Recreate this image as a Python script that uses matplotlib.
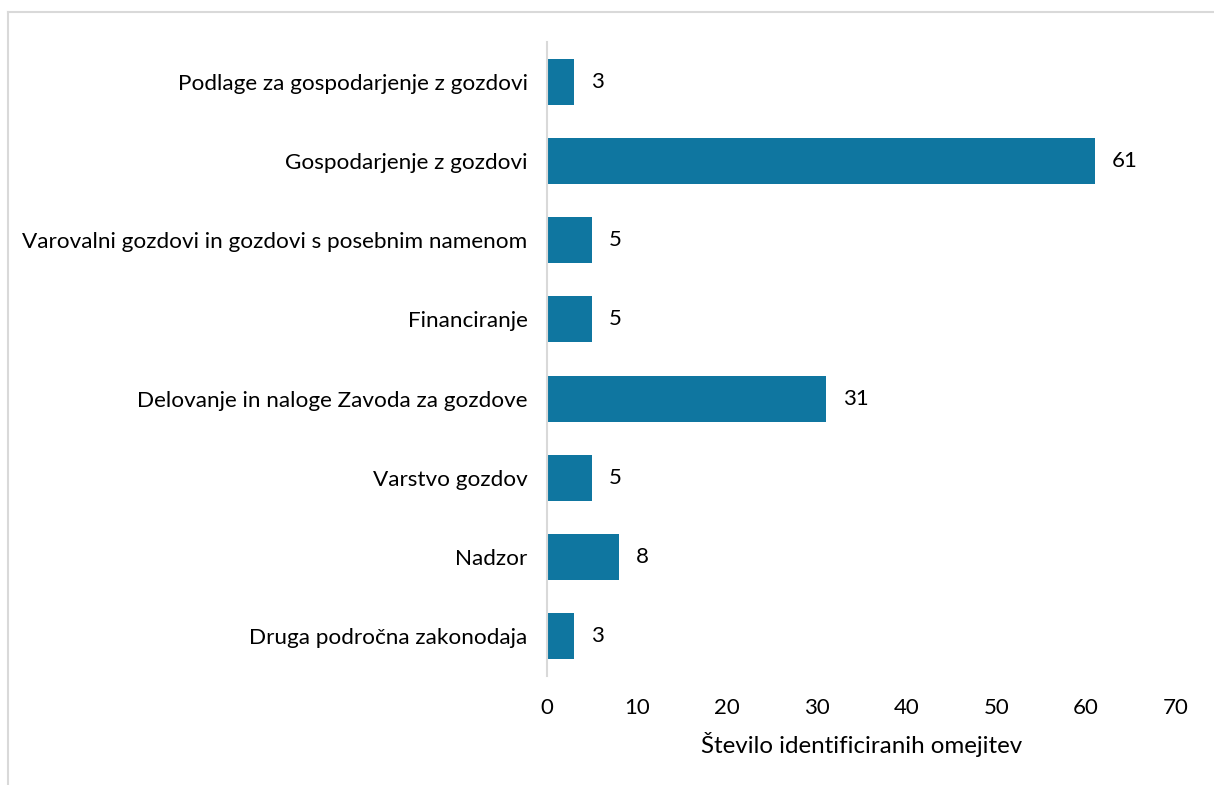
import matplotlib
matplotlib.use("Agg")
import matplotlib.pyplot as plt
from matplotlib.lines import Line2D

categories = [
    "Podlage za gospodarjenje z gozdovi",
    "Gospodarjenje z gozdovi",
    "Varovalni gozdovi in gozdovi s posebnim namenom",
    "Financiranje",
    "Delovanje in naloge Zavoda za gozdove",
    "Varstvo gozdov",
    "Nadzor",
    "Druga področna zakonodaja",
]
values = [3, 61, 5, 5, 31, 5, 8, 3]
xticks = [0, 10, 20, 30, 40, 50, 60, 70]
xlabel = "Število identificiranih omejitev"

plt.rcParams['font.family'] = ['Lato', 'DejaVu Sans']
W, H = 1214, 785
fig = plt.figure(figsize=(W / 100, H / 100), dpi=100)
ax = fig.add_axes([547 / W, 1 - 676 / H, (1176 - 547) / W, (676 - 42) / H])

ypos = list(range(len(categories)))
ax.barh(ypos, values, height=0.58, color="#0F76A0")
for y, v in zip(ypos, values):
    ax.text(v + 1.9, y, str(v), va="center", ha="left", fontsize=16, color="#000000")

ax.set_ylim(len(categories) - 0.5, -0.5)
ax.set_xlim(0, 70)
ax.set_yticks(ypos)
ax.set_yticklabels(categories, fontsize=16.2)
ax.set_xticks(xticks)
ax.set_xticklabels([str(t) for t in xticks], fontsize=16)
ax.tick_params(axis="both", length=0)
ax.tick_params(axis="y", pad=14)
ax.tick_params(axis="x", pad=16)
for s in ["top", "right", "bottom"]:
    ax.spines[s].set_visible(False)
ax.spines["left"].set_color("#D9D9D9")
ax.spines["left"].set_linewidth(1.5)
ax.set_xlabel(xlabel, fontsize=17.4, labelpad=10)

# outer frame lines
fig.add_artist(Line2D([8 / W, 1], [1 - 12 / H, 1 - 12 / H], transform=fig.transFigure, color="#D9D9D9", lw=1.5))
fig.add_artist(Line2D([8 / W, 8 / W], [0, 1 - 12 / H], transform=fig.transFigure, color="#D9D9D9", lw=1.5))

fig.savefig("out.png", dpi=100)
